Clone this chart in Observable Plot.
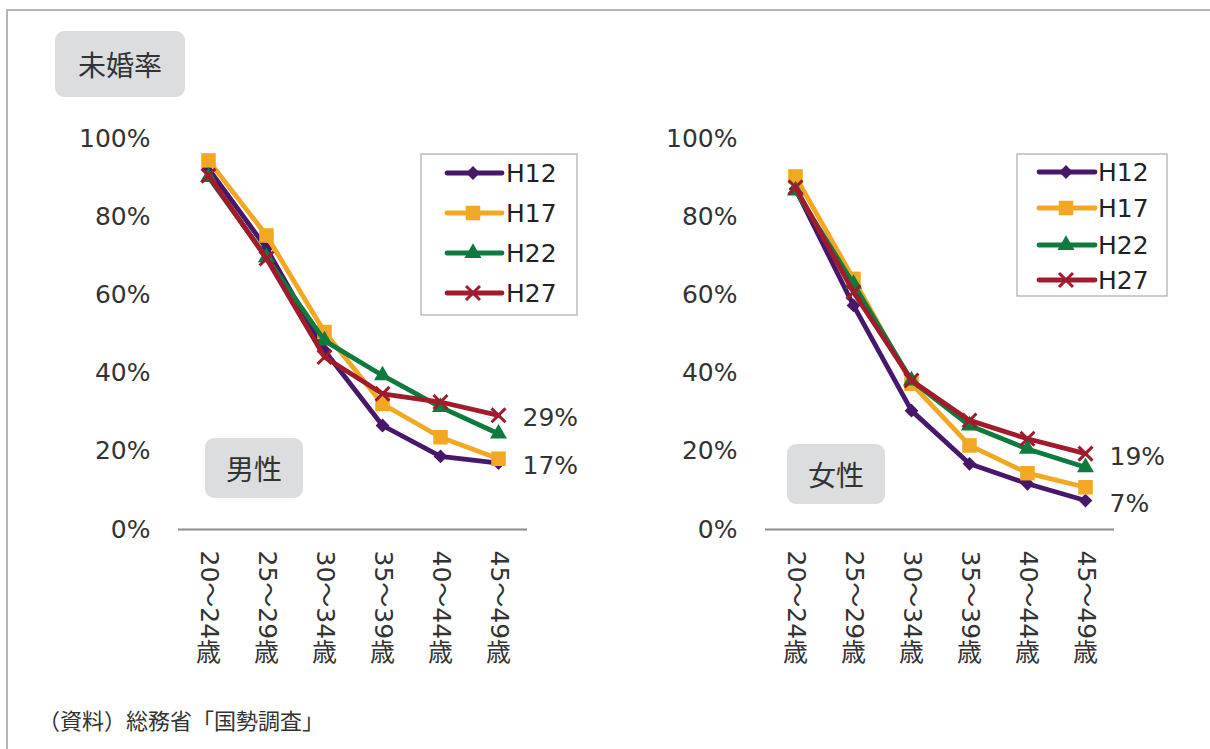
<!DOCTYPE html>
<html><head><meta charset="utf-8">
<script src="https://cdn.jsdelivr.net/npm/d3@7"></script>
<script src="https://cdn.jsdelivr.net/npm/@observablehq/plot@0.6"></script>
<style>
body{margin:0;background:#fff;}
#root{position:relative;width:1210px;height:749px;overflow:hidden;font-family:"DejaVu Sans","Noto Sans CJK JP",sans-serif;color:#333;}
.frameTop{position:absolute;left:7px;top:9px;width:1210px;height:0;border-top:2px solid #b4b4b4;}
.frameLeft{position:absolute;left:6px;top:9px;width:0;height:760px;border-left:2px solid #b4b4b4;}
.box{position:absolute;background:#dcdddf;border-radius:9px;display:flex;align-items:center;justify-content:center;font-family:"Noto Sans CJK JP",sans-serif;color:#333;}
.plot{position:absolute;top:0;}
.legend{position:absolute;}
.caption{position:absolute;left:38px;top:703px;font-family:"Noto Sans CJK JP",sans-serif;font-size:22px;color:#333;white-space:nowrap;}
</style>
</head><body>
<div id="root">
  <div class="frameTop"></div>
  <div class="frameLeft"></div>
</div>
<script>
// ---- data ----
const ages = ["20〜24歳","25〜29歳","30〜34歳","35〜39歳","40〜44歳","45〜49歳"];
const series = ["H12","H17","H22","H27"];
const colors = ["#47176b","#f2a823","#0e7a3e","#a01c2c"];
const symbols = ["diamond2","square","triangle","times"];
const maleH12 = [92.3, 71.9, 45.8, 26.6, 18.7, 17.0];
const maleH17 = [94.4, 75.2, 50.5, 32.1, 23.6, 18.1];
const maleH22 = [90.1, 69.6, 48.3, 39.4, 31.3, 24.5];
const maleH27 = [90.5, 69.3, 44.1, 34.7, 32.6, 29.2];
const femaleH12 = [87.1, 57.3, 30.4, 16.8, 11.7, 7.4];
const femaleH17 = [90.3, 64.1, 37.3, 21.5, 14.4, 10.8];
const femaleH22 = [86.7, 62.8, 38.1, 26.6, 20.6, 15.9];
const femaleH27 = [87.5, 60.7, 38.1, 27.9, 23.2, 19.4];
const labeledSeries = ["H27","H12"];
const yTicks = [0, 20, 40, 60, 80, 100];
const title = "未婚率";
const caption = "（資料）総務省「国勢調査」";

// ---- styles ----
const markerR = {H12: 6.2, H17: 8.2, H22: 6.3, H27: 6.4};
const FONT = "'DejaVu Sans','Noto Sans CJK JP',sans-serif";

function rows(arrs) {
  return series.flatMap((s, i) => arrs[i].map((v, j) => ({series: s, age: ages[j], value: v})));
}
const male = rows([maleH12, maleH17, maleH22, maleH27]);
const female = rows([femaleH12, femaleH17, femaleH22, femaleH27]);

function makePlot(data, marginLeft, marginRight) {
  const W = 605, H = 700;
  const marks = [
    Plot.ruleY([0], {stroke: "#8c8c8c", strokeWidth: 2}),
    Plot.axisY(yTicks, {tickSize: 0, tickPadding: 28, tickFormat: d => d + "%", fontSize: 25, fill: "#333", label: null}),
    Plot.text(ages, {x: d => d, frameAnchor: "bottom", text: d => d.slice(0, -1), rotate: 90,
      textAnchor: "start", lineAnchor: "middle", dy: 21, fontSize: 25, fill: "#333"}),
    Plot.text(ages, {x: d => d, frameAnchor: "bottom", text: d => d.slice(-1),
      lineAnchor: "middle", dy: 123, fontSize: 25, fill: "#333", fontFamily: "'Noto Sans CJK JP',sans-serif"})
  ];
  series.forEach((s, i) => {
    const sd = data.filter(d => d.series === s);
    marks.push(Plot.line(sd, {x: "age", y: "value", stroke: colors[i], strokeWidth: 4.8, strokeLinejoin: "round", strokeLinecap: "round"}));
    if (symbols[i] === "times") {
      marks.push(Plot.dot(sd, {x: "age", y: "value", symbol: symbols[i], r: markerR[s], stroke: colors[i], strokeWidth: 3, fill: "none"}));
    } else {
      marks.push(Plot.dot(sd, {x: "age", y: "value", symbol: symbols[i], r: markerR[s], fill: colors[i], stroke: "none"}));
    }
  });
  const last = data.filter(d => d.age === ages[ages.length - 1] && labeledSeries.includes(d.series));
  marks.push(Plot.text(last, {x: "age", y: "value", text: d => Math.round(d.value) + "%", dx: 24, dy: 3,
    textAnchor: "start", fontSize: 25, fill: "#333"}));
  return Plot.plot({
    width: W, height: H,
    marginLeft, marginRight, marginTop: 138, marginBottom: H - 529,
    style: {fontFamily: FONT, fontSize: "25px", color: "#333", background: "transparent", overflow: "visible"},
    x: {type: "point", domain: ages, padding: 0.5, axis: null, label: null},
    y: {domain: [0, 100], axis: null, label: null},
    marks
  });
}

const root = document.getElementById("root");
const p1 = makePlot(male, 178, 605 - 527);
p1.classList.add("plot"); p1.style.left = "0px";
root.appendChild(p1);
const p2 = makePlot(female, 160, 605 - 509);
p2.classList.add("plot"); p2.style.left = "605px";
root.appendChild(p2);

function addBox(text, left, top, w, h, fs) {
  const d = document.createElement("div");
  d.className = "box";
  Object.assign(d.style, {left: left + "px", top: top + "px", width: w + "px", height: h + "px", fontSize: fs + "px"});
  d.textContent = text;
  root.appendChild(d);
}
addBox(title, 55, 31, 130, 66, 28);
addBox("男性", 205, 438, 98, 60, 28);
addBox("女性", 787, 444, 98, 60, 28);

const symMap = {diamond2: d3.symbolDiamond2, square: d3.symbolSquare, triangle: d3.symbolTriangle, times: d3.symbolTimes};
function addLegend(left, top, w, h, lx1, lx2, mx, tx, rowY) {
  const svg = d3.select(root).append("svg")
    .attr("class", "legend").attr("width", w + 2).attr("height", h + 2)
    .style("left", (left - 1) + "px").style("top", (top - 1) + "px");
  svg.append("rect").attr("x", 1).attr("y", 1).attr("width", w).attr("height", h)
    .attr("fill", "#fff").attr("stroke", "#bdbdbd").attr("stroke-width", 1.5);
  series.forEach((s, i) => {
    const y = rowY[i] + 1;
    svg.append("line").attr("x1", lx1).attr("x2", lx2).attr("y1", y).attr("y2", y)
      .attr("stroke", colors[i]).attr("stroke-width", 4.8).attr("stroke-linecap", "round");
    const r = markerR[s];
    const p = svg.append("path").attr("transform", `translate(${mx},${y})`)
      .attr("d", d3.symbol(symMap[symbols[i]], Math.PI * r * r)());
    if (symbols[i] === "times") p.attr("fill", "none").attr("stroke", colors[i]).attr("stroke-width", 3);
    else p.attr("fill", colors[i]);
    svg.append("text").attr("x", tx).attr("y", y).attr("dy", "0.36em")
      .attr("font-family", FONT).attr("font-size", 25).attr("fill", "#222").text(s);
  });
}
addLegend(421, 154, 156, 161, 27, 82, 53, 86, [19, 59, 99, 139]);
addLegend(1017, 154, 150, 142, 23, 79, 50, 82, [18, 54, 91, 126]);

const cap = document.createElement("div");
cap.className = "caption";
cap.textContent = caption;
root.appendChild(cap);
</script>
</body></html>
